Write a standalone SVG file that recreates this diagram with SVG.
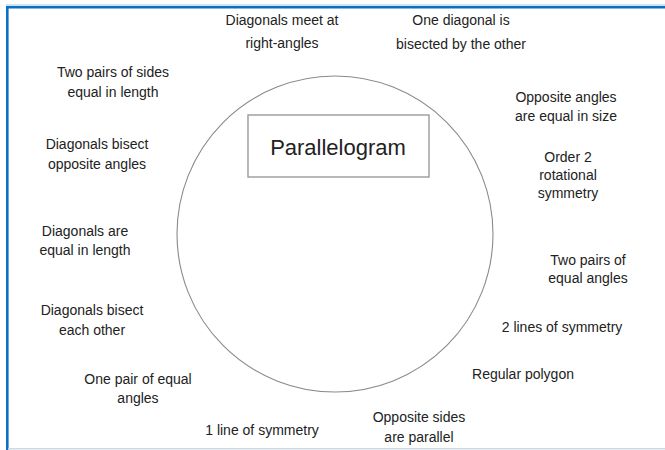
<svg xmlns="http://www.w3.org/2000/svg" width="665" height="450" viewBox="0 0 665 450">
<style>
.t{font-family:"Liberation Sans",Arial,sans-serif;font-size:14px;fill:#222;text-anchor:middle}
.frame{stroke:#0d6fbf;stroke-width:2.6;fill:none}
</style>
<rect x="0" y="0" width="665" height="450" fill="#fff"/>
<g id="frame">
<line x1="6" y1="5" x2="665" y2="5" stroke="#9cc8ec" stroke-width="1"/>
<path class="frame" d="M7.3 450 V7.3 H665"/>
<line x1="8" y1="448.8" x2="665" y2="448.8" stroke="#cdd9e3" stroke-width="1.5"/>
</g>
<g id="circle"><circle cx="335" cy="234" r="158" fill="none" stroke="#8a8a8a" stroke-width="1.1"/></g>
<g id="title">
<rect x="248" y="115" width="181" height="62" fill="#fff" stroke="#9a9a9a" stroke-width="1.4"/>
<text x="338" y="155" class="t" style="font-size:22px">Parallelogram</text>
</g>
<g id="n1"><text class="t" x="282" y="25">Diagonals meet at</text><text class="t" x="282" y="48">right-angles</text></g>
<g id="n2"><text class="t" x="461" y="25">One diagonal is</text><text class="t" x="461" y="49">bisected by the other</text></g>
<g id="n3"><text class="t" x="113" y="77">Two pairs of sides</text><text class="t" x="113" y="97">equal in length</text></g>
<g id="n4"><text class="t" x="566" y="102">Opposite angles</text><text class="t" x="566" y="121">are equal in size</text></g>
<g id="n5"><text class="t" x="97" y="149">Diagonals bisect</text><text class="t" x="97" y="169">opposite angles</text></g>
<g id="n6"><text class="t" x="568" y="162">Order 2</text><text class="t" x="568" y="180">rotational</text><text class="t" x="568" y="198">symmetry</text></g>
<g id="n7"><text class="t" x="85" y="236">Diagonals are</text><text class="t" x="85" y="255">equal in length</text></g>
<g id="n8"><text class="t" x="588" y="265">Two pairs of</text><text class="t" x="588" y="283">equal angles</text></g>
<g id="n9"><text class="t" x="92" y="315">Diagonals bisect</text><text class="t" x="92" y="335">each other</text></g>
<g id="n10"><text class="t" x="562" y="332">2 lines of symmetry</text></g>
<g id="n11"><text class="t" x="523" y="379">Regular polygon</text></g>
<g id="n12"><text class="t" x="138" y="384">One pair of equal</text><text class="t" x="138" y="403">angles</text></g>
<g id="n13"><text class="t" x="262" y="435">1 line of symmetry</text></g>
<g id="n14"><text class="t" x="419" y="422">Opposite sides</text><text class="t" x="419" y="442">are parallel</text></g>
</svg>
